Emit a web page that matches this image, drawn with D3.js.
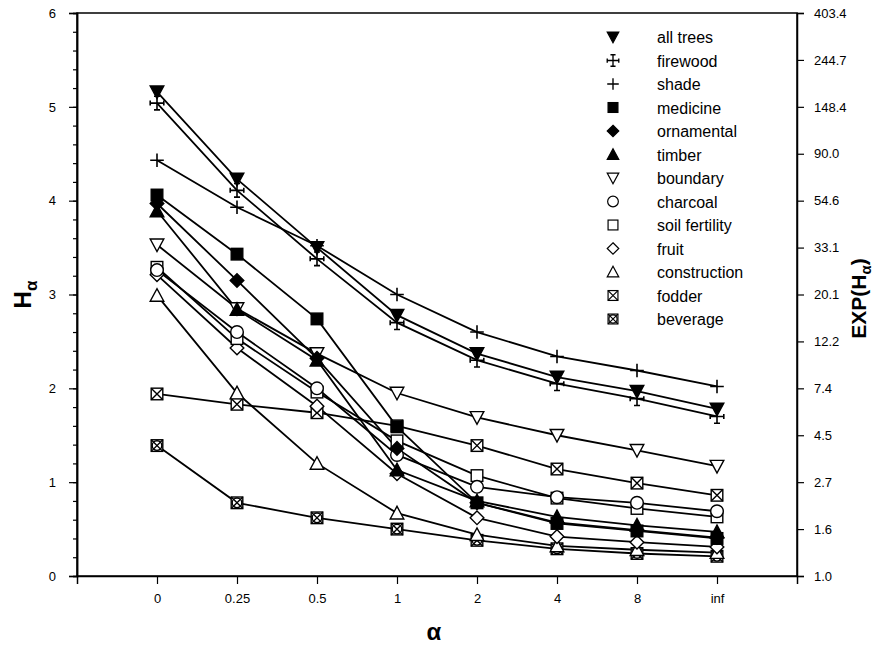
<!DOCTYPE html>
<html>
<head>
<meta charset="utf-8">
<script src="https://cdn.jsdelivr.net/npm/d3@7"></script>
<style>
  body { margin: 0; background: #fff; }
  svg { font-family: "Liberation Sans", Arial, sans-serif; }
</style>
</head>
<body>
<div id="chart"></div>
<script>
// alpha categories on the x axis
const alphas = ["0", "0.25", "0.5", "1", "2", "4", "8", "inf"];

// H_alpha values per use category
const allTrees     = [5.16, 4.23, 3.50, 2.78, 2.37, 2.12, 1.97, 1.78];
const firewood     = [5.04, 4.11, 3.38, 2.70, 2.30, 2.05, 1.89, 1.70];
const shade        = [4.43, 3.93, 3.52, 3.00, 2.60, 2.34, 2.19, 2.02];
const medicine     = [4.06, 3.43, 2.74, 1.59, 0.78, 0.56, 0.48, 0.40];
const ornamental   = [3.97, 3.15, 2.32, 1.36, 0.78, 0.57, 0.49, 0.41];
const timber       = [3.89, 2.84, 2.30, 1.13, 0.80, 0.63, 0.54, 0.47];
const boundary     = [3.53, 2.85, 2.37, 1.95, 1.69, 1.50, 1.34, 1.17];
const charcoal     = [3.26, 2.60, 2.00, 1.29, 0.95, 0.84, 0.78, 0.69];
const soilFert     = [3.29, 2.53, 1.96, 1.44, 1.07, 0.83, 0.72, 0.63];
const fruit        = [3.21, 2.43, 1.81, 1.09, 0.62, 0.42, 0.36, 0.31];
const construction = [2.99, 1.95, 1.20, 0.67, 0.44, 0.32, 0.28, 0.25];
const fodder       = [1.94, 1.83, 1.74, 1.60, 1.39, 1.14, 0.99, 0.86];
const beverage     = [1.39, 0.78, 0.62, 0.50, 0.38, 0.29, 0.24, 0.21];

const seriesNames = ["all trees", "firewood", "shade", "medicine", "ornamental", "timber",
  "boundary", "charcoal", "soil fertility", "fruit", "construction", "fodder", "beverage"];
const seriesValues = [allTrees, firewood, shade, medicine, ornamental, timber,
  boundary, charcoal, soilFert, fruit, construction, fodder, beverage];
const seriesShapes = ["triDownFill", "crossSerif", "plus", "squareFill", "diamondFill", "triUpFill",
  "triDown", "circle", "square", "diamond", "triUp", "squareX", "squareXO"];

// tick labels
const leftTicks = [0, 1, 2, 3, 4, 5, 6];
const rightTicks = [0, 0.5, 1, 1.5, 2, 2.5, 3, 3.5, 4, 4.5, 5, 5.5, 6];
const rightLabels = ["1.0", "1.6", "2.7", "4.5", "7.4", "12.2", "20.1", "33.1", "54.6",
  "90.0", "148.4", "244.7", "403.4"];

const W = 884, H = 647;
const margin = { left: 77, top: 13, right: 87, bottom: 71 };
const iw = W - margin.left - margin.right;
const ih = H - margin.top - margin.bottom;

const svg = d3.select("#chart").append("svg")
  .attr("width", W).attr("height", H);

const g = svg.append("g")
  .attr("transform", `translate(${margin.left},${margin.top})`);

const x = d3.scalePoint().domain(alphas).range([0, iw]).padding(1);
const y = d3.scaleLinear().domain([0, 6]).range([ih, 0]);

// frame
g.append("rect").attr("width", iw).attr("height", ih)
  .attr("fill", "none").attr("stroke", "#000").attr("stroke-width", 1.5);

// left axis
const yAxis = g.append("g")
  .call(d3.axisLeft(y).tickValues(leftTicks).tickSize(8).tickPadding(13)
    .tickFormat(d3.format("d")));
const yMinor = g.append("g")
  .call(d3.axisLeft(y).tickValues(d3.range(0, 6.001, 0.2)).tickSize(4).tickFormat(""));

// right axis
const yRight = g.append("g").attr("transform", `translate(${iw},0)`)
  .call(d3.axisRight(y).tickValues(rightTicks).tickSize(7).tickPadding(10)
    .tickFormat((d, i) => rightLabels[i]));

// bottom axis
const xAxis = g.append("g").attr("transform", `translate(0,${ih})`)
  .call(d3.axisBottom(x).tickSize(8).tickPadding(10));

[yAxis, yMinor, yRight, xAxis].forEach(a => {
  a.select(".domain").attr("stroke-width", 1.5);
  a.selectAll(".tick line").attr("stroke-width", 1.2);
  a.selectAll("text").attr("font-size", 13).attr("fill", "#000")
    .attr("font-family", "Liberation Sans, Arial, sans-serif");
});

// lines
const line = d3.line().x((d, i) => x(alphas[i])).y(d => y(d));
g.selectAll("path.series").data(seriesValues).join("path")
  .attr("class", "series")
  .attr("d", line)
  .attr("fill", "none").attr("stroke", "#000").attr("stroke-width", 1.8);

// marker drawing
function drawMarker(sel, shape) {
  const s = 5.8;
  const stroke = { stroke: "#000", "stroke-width": 1.4 };
  const setAttrs = (el, o) => { Object.entries(o).forEach(([k, v]) => el.attr(k, v)); return el; };
  const fillFor = shape.endsWith("Fill") ? "#000" : "#fff";
  switch (shape) {
    case "triDownFill":
    case "triDown":
      setAttrs(sel.append("path").attr("d", `M${-s - 1},${-s}L${s + 1},${-s}L0,${s + 1}Z`)
        .attr("fill", fillFor), stroke);
      break;
    case "triUpFill":
    case "triUp":
      setAttrs(sel.append("path").attr("d", `M${-s - 1},${s}L${s + 1},${s}L0,${-s - 1}Z`)
        .attr("fill", fillFor), stroke);
      break;
    case "squareFill":
    case "square":
      setAttrs(sel.append("rect").attr("x", -s).attr("y", -s).attr("width", 2 * s).attr("height", 2 * s)
        .attr("fill", fillFor), stroke);
      break;
    case "diamondFill":
    case "diamond":
      setAttrs(sel.append("path").attr("d", `M0,${-s - 1}L${s + 1},0L0,${s + 1}L${-s - 1},0Z`)
        .attr("fill", fillFor), stroke);
      break;
    case "circle":
      setAttrs(sel.append("circle").attr("r", s + 0.5).attr("fill", "#fff"), stroke);
      break;
    case "plus":
      setAttrs(sel.append("path").attr("d", `M${-s - 1},0H${s + 1}M0,${-s - 1}V${s + 1}`)
        .attr("fill", "none"), { stroke: "#000", "stroke-width": 1.6 });
      break;
    case "crossSerif":
      setAttrs(sel.append("path").attr("d",
        `M${-s - 1},0H${s + 1}M0,${-s - 1}V${s + 1}` +
        `M-3,${-s - 1}H3M-3,${s + 1}H3M${-s - 1},-2.5V2.5M${s + 1},-2.5V2.5`)
        .attr("fill", "none"), { stroke: "#000", "stroke-width": 1.6 });
      break;
    case "squareX":
      setAttrs(sel.append("rect").attr("x", -s).attr("y", -s).attr("width", 2 * s).attr("height", 2 * s)
        .attr("fill", "#fff"), stroke);
      setAttrs(sel.append("path").attr("d", `M${-s},${-s}L${s},${s}M${s},${-s}L${-s},${s}`), stroke);
      break;
    case "squareXO":
      setAttrs(sel.append("rect").attr("x", -s).attr("y", -s).attr("width", 2 * s).attr("height", 2 * s)
        .attr("fill", "#fff"), stroke);
      setAttrs(sel.append("circle").attr("r", s - 1).attr("fill", "none"), stroke);
      setAttrs(sel.append("path").attr("d", `M${-s},${-s}L${s},${s}M${s},${-s}L${-s},${s}`), stroke);
      break;
  }
}

// markers, last series first so the earlier ones end up on top
seriesValues.slice().reverse().forEach((vals, ri) => {
  const si = seriesValues.length - 1 - ri;
  vals.forEach((v, i) => {
    const m = g.append("g").attr("transform", `translate(${x(alphas[i])},${y(v)})`);
    drawMarker(m, seriesShapes[si]);
  });
});

// legend
const legend = svg.append("g").attr("transform", "translate(613,37)");
seriesNames.forEach((name, i) => {
  const row = legend.append("g").attr("transform", `translate(0,${i * 23.5})`);
  const m = row.append("g").attr("transform", "scale(0.85)");
  drawMarker(m, seriesShapes[i]);
  row.append("text").attr("x", 44).attr("y", 6)
    .attr("font-size", 16).attr("fill", "#000").text(name);
});

// axis titles
const leftTitle = svg.append("text")
  .attr("transform", `translate(31,${margin.top + ih / 2}) rotate(-90)`)
  .attr("text-anchor", "middle").attr("font-size", 24).attr("font-weight", "bold");
leftTitle.append("tspan").text("H");
leftTitle.append("tspan").attr("font-size", 17).attr("dy", 6).text("α");

const rightTitle = svg.append("text")
  .attr("transform", `translate(866,${margin.top + ih / 2 + 4}) rotate(-90)`)
  .attr("text-anchor", "middle").attr("font-size", 21).attr("font-weight", "bold");
rightTitle.append("tspan").text("EXP(H");
rightTitle.append("tspan").attr("font-size", 15).attr("dy", 5).text("α");
rightTitle.append("tspan").attr("dy", -5).text(")");

svg.append("text")
  .attr("x", margin.left + iw / 2 - 3).attr("y", 640)
  .attr("text-anchor", "middle").attr("font-size", 24).attr("font-weight", "bold")
  .text("α");
</script>
</body>
</html>
